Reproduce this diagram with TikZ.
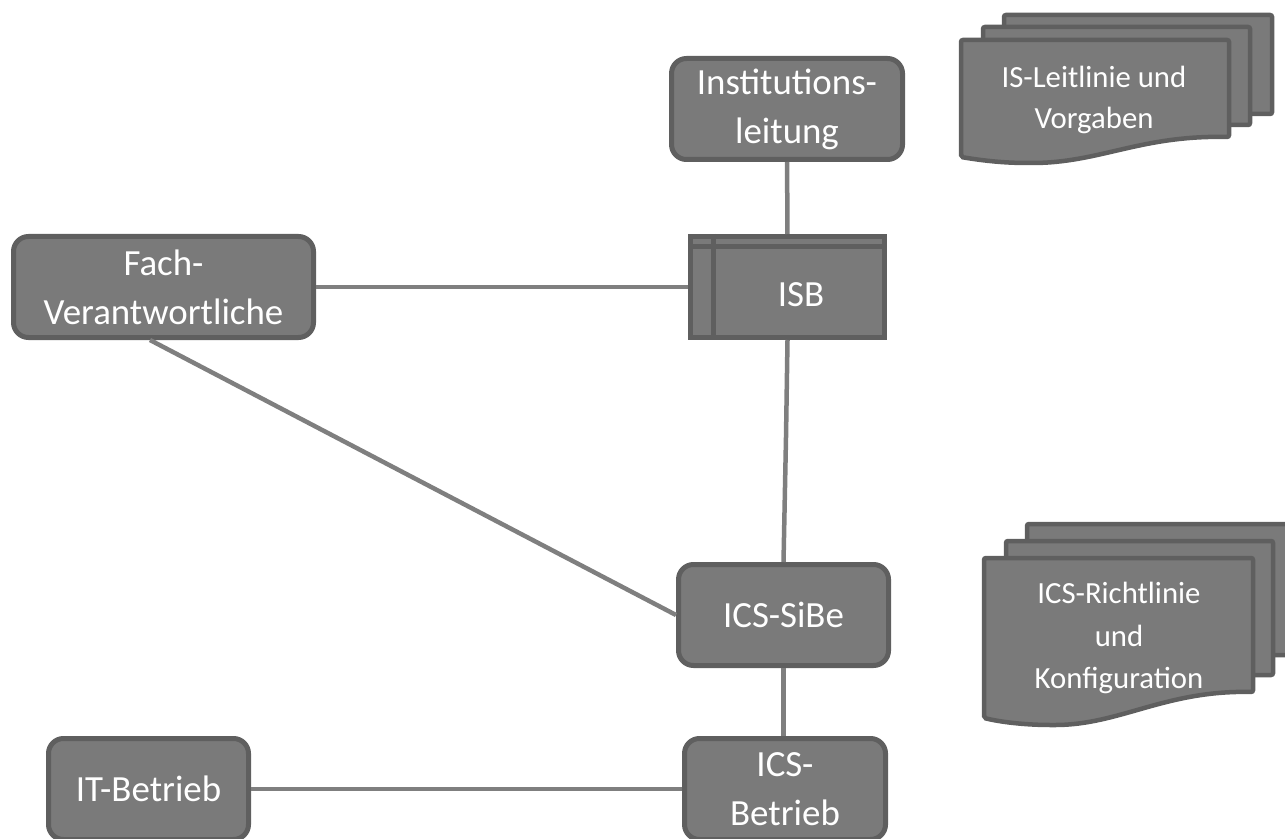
\documentclass[tikz,border=0pt]{standalone}
\usepackage{fontspec}
\setmainfont{Carlito}
\usepackage{xcolor}
\usetikzlibrary{calc}

\definecolor{boxfill}{HTML}{7A7A7A}
\definecolor{boxedge}{HTML}{5F5F5F}
\definecolor{linkgray}{HTML}{7F7F7F}

\tikzset{
  box/.style={draw=boxedge, fill=boxfill, line width=0.1cm, rounded corners=0.3cm, minimum height=2.02cm, inner sep=0pt, align=center, text=white, font=\fontsize{21}{27.8}\selectfont},
  sheet/.style={draw=boxedge, fill=boxfill, line width=0.09cm, rounded corners=0.04cm},
  doctext/.style={align=center, text=white, inner sep=0pt},
  link/.style={draw=linkgray, line width=0.09cm}
}

\begin{document}
\begin{tikzpicture}
\useasboundingbox (0,0) rectangle (25.7,16.76);

\node[box, minimum width=4.62cm] (inst) at (15.74,14.58) {Institutions-\\leitung};
\node[box, minimum width=3.88cm, sharp corners] (isb) at (15.75,11.02) {};
\node[box, minimum width=6cm] (fach) at (3.27,11.02) {Fach-\\Verantwortliche};
\node[box, minimum width=4.2cm] (sibe) at (15.67,4.46) {ICS-SiBe};
\node[box, minimum width=4.02cm] (betrieb) at (15.7,0.98) {ICS-\\Betrieb};
\node[box, minimum width=4cm] (it) at (2.97,0.98) {IT-Betrieb};
\node[doctext, font=\fontsize{21}{27.8}\selectfont] (isbtext) at (16.02,10.86) {ISB};

\draw[boxedge, line width=0.1cm] ($(isb.north west)+(0.5,0)$) -- ($(isb.south west)+(0.5,0)$);
\draw[boxedge, line width=0.1cm] ($(isb.north west)+(0,-0.26)$) -- ($(isb.north east)+(0,-0.26)$);

\coordinate (kink) at (15.72,8.02);
\coordinate (fachfoot) at (3,9.96);

\draw[link] (inst) -- (isb);
\draw[link] (fach) -- (fach -| isb.west);
\draw[link] (isb.south) -- (kink) -- (sibe.north);
\draw[link] (fachfoot) -- (sibe.west);
\draw[link] (sibe.south) -- (sibe.south |- betrieb.north);
\draw[link] (it) -- (betrieb);

% documents, top
\draw[sheet] (20.08,16.46) rectangle (25.44,14.48);
\draw[sheet] (19.66,16.22) rectangle (25,14.26);
\draw[sheet] (19.22,15.96) -- (24.58,15.96) -- (24.58,14.02) .. controls (22.8,14.06) and (22,13.5) .. (20.6,13.5) .. controls (20.1,13.5) and (19.7,13.54) .. (19.22,13.62) -- cycle;
\node[doctext, font=\fontsize{17.5}{23}\selectfont] (leitlinie) at (21.88,14.76) {IS-Leitlinie und\\Vorgaben};

% documents, bottom
\draw[sheet] (20.54,6.28) rectangle (26,3.66);
\draw[sheet] (20.12,5.94) rectangle (25.46,3.26);
\draw[sheet] (19.68,5.6) -- (25.06,5.6) -- (25.06,2.92) .. controls (23.3,2.96) and (22.4,2.26) .. (21.06,2.26) .. controls (20.6,2.26) and (20.1,2.3) .. (19.68,2.4) -- cycle;
\node[doctext, font=\fontsize{17.5}{24}\selectfont] (richtlinie) at (22.38,4) {ICS-Richtlinie\\und\\Konfiguration};

\end{tikzpicture}
\end{document}
